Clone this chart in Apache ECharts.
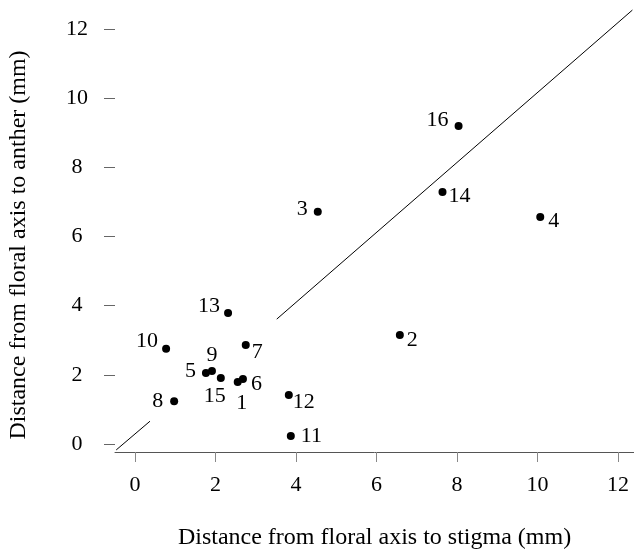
<!DOCTYPE html>
<html>
<head>
<meta charset="utf-8">
<script src="https://cdn.jsdelivr.net/npm/echarts@6/dist/echarts.min.js"></script>
<style>
  html, body { margin: 0; padding: 0; background: #fff; }
  #chart { width: 634px; height: 552px; }
</style>
</head>
<body>
<div id="chart"></div>
<script>
// flower numbers and measured distances (mm)
const flowerIds = ['1', '2', '3', '4', '5', '6', '7', '8', '9', '10', '11', '12', '13', '14', '15', '16']
const stigmaDist = [2.55, 6.58, 4.54, 10.07, 1.76, 2.68, 2.75, 0.97, 1.91, 0.77, 3.87, 3.82, 2.31, 7.64, 2.13, 8.04]
const antherDist = [1.79, 3.15, 6.71, 6.56, 2.05, 1.88, 2.86, 1.24, 2.11, 2.75, 0.23, 1.42, 3.79, 7.28, 1.91, 9.19]
// where each number sits relative to its dot
const labelSide = ['bottom', 'right', 'left', 'right', 'left', 'right', 'right', 'left', 'top', 'left', 'right', 'right', 'left', 'right', 'bottom', 'left']

// 1:1 line, drawn in two pieces
const diagLow = [[-0.47, -0.17], [0.37, 0.66]]
const diagHigh = [[3.52, 3.61], [12.36, 12.54]]

const xTicks = [0, 2, 4, 6, 8, 10, 12]
const yTicks = [0, 2, 4, 6, 8, 10, 12]

const font = 'Liberation Serif'

// small nudges so numbers land like the original
const labelOffsets = {
  '1': [4, 1], '2': [-2, 5], '3': [-1, -3], '4': [-1, 4], '5': [-1, -2],
  '6': [-1, 5], '7': [-3, 7], '8': [-2, 0], '9': [0, 4], '10': [1, -8],
  '11': [1, 0], '12': [-5, 7], '13': [1, -7], '14': [-3, 4], '15': [-6, -2], '16': [-1, -6]
}

const points = flowerIds.map((id, i) => ({
  value: [stigmaDist[i], antherDist[i]],
  label: {
    show: true,
    formatter: id,
    position: labelSide[i],
    distance: 5,
    offset: labelOffsets[id] || [0, 0]
  }
}))

const chart = echarts.init(document.getElementById('chart'))
chart.setOption({
  backgroundColor: '#fff',
  animation: false,
  grid: { left: 115, right: 0, top: 8, bottom: 100, outerBoundsMode: 'none', containLabel: false },
  xAxis: {
    type: 'value',
    min: -0.5,
    max: 12.4,
    name: 'Distance from floral axis to stigma (mm)',
    nameLocation: 'middle',
    nameGap: 74,
    nameTextStyle: { fontFamily: font, fontSize: 24, color: '#000' },
    splitLine: { show: false },
    axisLine: { show: true, onZero: false, lineStyle: { color: '#555', width: 1 } },
    axisTick: { show: true, length: 10, customValues: xTicks, lineStyle: { color: '#888' } },
    axisLabel: { customValues: xTicks, margin: 22, fontFamily: font, fontSize: 22, color: '#000' }
  },
  yAxis: {
    type: 'value',
    min: -0.23,
    max: 12.6,
    name: 'Distance from floral axis to anther (mm)',
    nameLocation: 'middle',
    nameGap: 84,
    nameTextStyle: { fontFamily: font, fontSize: 24, color: '#000', padding: [0, 30, 0, 0] },
    splitLine: { show: false },
    axisLine: { show: false, onZero: false },
    axisTick: { show: true, inside: false, length: 11, customValues: yTicks, lineStyle: { color: '#666' } },
    axisLabel: { customValues: yTicks, margin: 38, align: 'center', fontFamily: font, fontSize: 22, color: '#000' }
  },
  series: [
    {
      type: 'line',
      data: diagLow,
      symbol: 'none',
      lineStyle: { color: '#000', width: 1 }
    },
    {
      type: 'line',
      data: diagHigh,
      symbol: 'none',
      lineStyle: { color: '#000', width: 1 }
    },
    {
      type: 'scatter',
      data: points,
      symbolSize: 8,
      itemStyle: { color: '#000', opacity: 1 },
      label: { fontFamily: font, fontSize: 22, color: '#000' }
    }
  ]
})
</script>
</body>
</html>
